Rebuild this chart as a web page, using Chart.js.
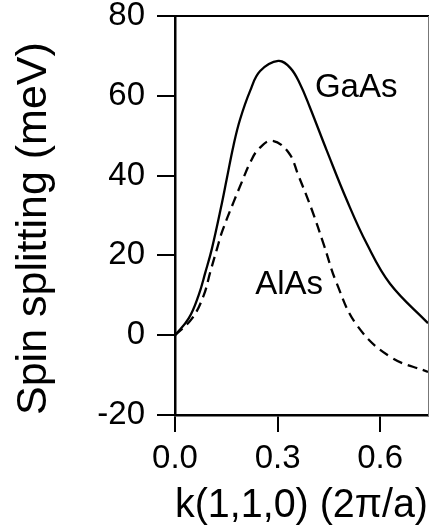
<!DOCTYPE html>
<html>
<head>
<meta charset="utf-8">
<script src="https://cdn.jsdelivr.net/npm/chart.js@4/dist/chart.umd.min.js"></script>
<style>
  html, body { margin: 0; padding: 0; background: #fff; }
  #wrap { width: 429px; height: 531px; }
</style>
</head>
<body>
<div id="wrap"><canvas id="spin-chart"></canvas></div>
<script>
// k along (1,1,0), units of 2pi/a ; splitting in meV
const kGaAs = [0, 0.04, 0.069, 0.089, 0.108, 0.137, 0.151, 0.171, 0.19, 0.22, 0.249, 0.302, 0.337, 0.366, 0.395, 0.444, 0.503, 0.561, 0.629, 0.74];
const splitGaAs = [0, 4.2, 10, 15.8, 21.7, 33, 39, 47.5, 54, 61.3, 66.2, 68.75, 67, 62.9, 57, 46.25, 33.75, 22.9, 12.9, 3];
const kAlAs = [0, 0.05, 0.084, 0.103, 0.123, 0.138, 0.171, 0.195, 0.22, 0.244, 0.283, 0.332, 0.361, 0.4, 0.434, 0.473, 0.532, 0.629, 0.74];
const splitAlAs = [0, 4.2, 10, 15.8, 21.7, 26, 33.3, 38.3, 43.3, 46.6, 48.75, 45.8, 40, 31.5, 23, 13, 2.5, -5.4, -9.2];

const xTicks = [0, 0.3, 0.6];
const curveNames = ["GaAs", "AlAs"];
const labelK = [0.53, 0.334];
const labelSplit = [62, 12.5];

const FONT = "'Liberation Sans', Arial, Helvetica, sans-serif";

const toPoints = (xs, ys) => xs.map((x, i) => ({ x: x, y: ys[i] }));

// writes the material names next to their curves
const curveLabelPlugin = {
  id: "curveLabels",
  afterDatasetsDraw(chart) {
    const ctx = chart.ctx;
    const xs = chart.scales.x;
    const ys = chart.scales.y;
    ctx.save();
    ctx.fillStyle = "#000";
    ctx.font = "33px " + FONT;
    ctx.textAlign = "center";
    ctx.textBaseline = "middle";
    curveNames.forEach((name, i) => {
      ctx.fillText(name, xs.getPixelForValue(labelK[i]), ys.getPixelForValue(labelSplit[i]));
    });
    ctx.restore();
  }
};

const ctx = document.getElementById("spin-chart").getContext("2d");

new Chart(ctx, {
  type: "line",
  data: {
    datasets: [
      {
        label: "GaAs",
        data: toPoints(kGaAs, splitGaAs),
        borderColor: "#000",
        borderWidth: 2.3,
        pointRadius: 0,
        tension: 0.4,
        fill: false,
      },
      {
        label: "AlAs",
        data: toPoints(kAlAs, splitAlAs),
        borderColor: "#000",
        borderWidth: 2.3,
        borderDash: [10, 6],
        pointRadius: 0,
        tension: 0.4,
        fill: false,
      },
    ],
  },
  options: {
    responsive: true,
    maintainAspectRatio: false,
    animation: false,
    layout: { padding: { top: 16, right: 1, bottom: 0, left: 0 } },
    plugins: {
      legend: { display: false },
      tooltip: { enabled: false },
    },
    scales: {
      x: {
        type: "linear",
        position: "bottom",
        min: 0,
        max: 0.74,
        afterBuildTicks: (scale) => {
          scale.ticks = xTicks.map((v) => ({ value: v }));
        },
        afterFit: (scale) => {
          scale.height = 116;
          scale.paddingLeft = 0;
          scale.paddingRight = 0;
        },
        border: { color: "#000", width: 2.5 },
        grid: { drawOnChartArea: false, color: "#000", lineWidth: 2, tickLength: 17 },
        ticks: {
          color: "#000",
          padding: 7,
          font: { family: FONT, size: 33 },
          callback: (v) => Number(v).toFixed(1),
          maxRotation: 0,
        },
        title: {
          display: true,
          text: "k(1,1,0) (2π/a)",
          color: "#000",
          font: { family: FONT, size: 40 },
          padding: { top: 0, bottom: 1 },
        },
      },
      y: {
        position: "left",
        min: -20,
        max: 80,
        afterFit: (scale) => {
          scale.width = 175;
          scale.paddingTop = 0;
          scale.paddingBottom = 0;
        },
        border: { color: "#000", width: 2.5 },
        grid: { drawOnChartArea: false, color: "#000", lineWidth: 2, tickLength: 18 },
        ticks: {
          stepSize: 20,
          color: "#000",
          padding: 12,
          font: { family: FONT, size: 33 },
        },
        title: {
          display: true,
          text: "Spin splitting (meV)",
          align: "start",
          color: "#000",
          font: { family: FONT, size: 43 },
          padding: { top: 8, bottom: 0 },
        },
      },
      xTop: {
        type: "linear",
        position: "top",
        afterFit: (scale) => {
          scale.height = 0;
          scale.paddingLeft = 0;
          scale.paddingRight = 0;
        },
        border: { color: "#000", width: 2 },
        grid: { drawOnChartArea: false, drawTicks: false },
        ticks: { display: false },
      },
      yRight: {
        position: "right",
        afterFit: (scale) => {
          scale.width = 0;
          scale.paddingTop = 0;
          scale.paddingBottom = 0;
        },
        border: { color: "#777", width: 1 },
        grid: { drawOnChartArea: false, drawTicks: false },
        ticks: { display: false },
      },
    },
  },
  plugins: [curveLabelPlugin],
});
</script>
</body>
</html>
